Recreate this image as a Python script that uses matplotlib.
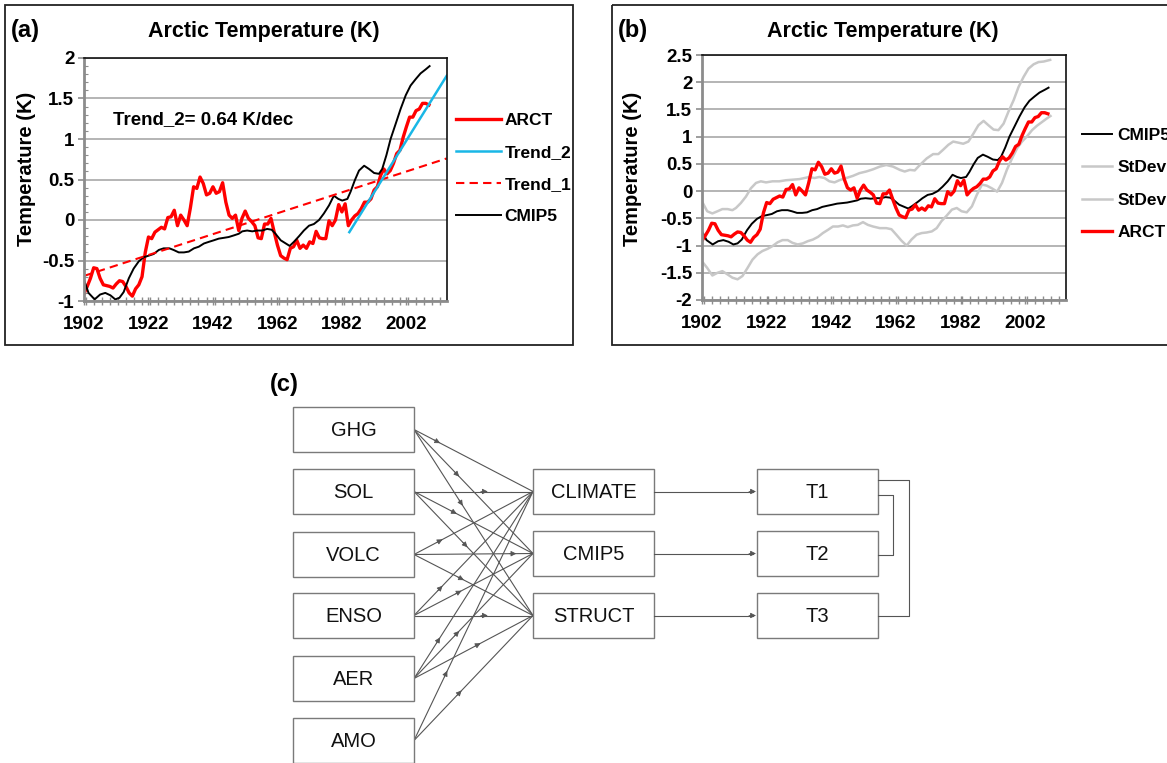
import numpy as np
import matplotlib
matplotlib.use("Agg")
import matplotlib.pyplot as plt
from matplotlib.patches import Rectangle
from matplotlib.ticker import MultipleLocator, FixedLocator

plt.rcParams['font.family'] = ['Liberation Sans', 'DejaVu Sans']

# ---------------- data ----------------
years = np.arange(1902, 2010)
arct = [-0.91, -0.82, -0.72, -0.59, -0.60, -0.72, -0.80, -0.81,
        -0.82, -0.84, -0.79, -0.75, -0.76, -0.82, -0.90, -0.94, -0.85, -0.80,
        -0.70, -0.40, -0.21, -0.23, -0.15, -0.12, -0.09, -0.11, 0.03, 0.04,
        0.12, -0.07, 0.06, 0.00, -0.07, 0.15, 0.41, 0.39, 0.53, 0.45,
        0.31, 0.33, 0.41, 0.33, 0.35, 0.46, 0.22, 0.06, 0.02, 0.06,
        -0.13, 0.02, 0.11, 0.02, -0.02, -0.07, -0.22, -0.23, -0.05, -0.05,
        0.02, -0.15, -0.31, -0.44, -0.47, -0.49, -0.35, -0.33, -0.25, -0.35,
        -0.31, -0.35, -0.27, -0.29, -0.14, -0.22, -0.23, -0.23, -0.01, -0.07,
        0.00, 0.19, 0.10, 0.20, -0.07, 0.00, 0.05, 0.08, 0.14, 0.22,
        0.22, 0.26, 0.37, 0.41, 0.55, 0.63, 0.57, 0.61, 0.70, 0.82,
        0.86, 1.02, 1.15, 1.27, 1.27, 1.35, 1.37, 1.44, 1.44, 1.42]

cmip5_years = [1902, 1903.4, 1905.3, 1907, 1908.6, 1910.2, 1911.7, 1913, 1914.3, 1915.9,
               1917.4, 1919, 1920.5, 1922.1, 1923.6, 1925.2, 1926.7, 1928.5, 1929.8, 1931.4,
               1933, 1934.5, 1936.1, 1937.6, 1939.2, 1940.7, 1942.3, 1943.8, 1945.4, 1946.9,
               1948.5, 1950, 1951.1, 1952.6, 1954.2, 1955.7, 1957.3, 1958.8, 1960.2, 1961.4,
               1963, 1964.6, 1965.8, 1967.1, 1968.7, 1970.2, 1971.8, 1973.3, 1974.9, 1976.4,
               1978, 1979.5, 1980.9, 1982.1, 1983.7, 1984.7, 1986, 1987.3, 1988.9, 1990.4,
               1992, 1993.5, 1994.5, 1995.8, 1997.1, 1998.7, 2000.2, 2001.8, 2003.3, 2004.9,
               2006.4, 2008, 2009.2]
cmip5 = [-0.74, -0.90, -0.98, -0.92, -0.90, -0.93, -0.98, -0.96, -0.89, -0.72,
         -0.60, -0.51, -0.46, -0.44, -0.42, -0.37, -0.35, -0.35, -0.37, -0.40,
         -0.40, -0.39, -0.35, -0.33, -0.29, -0.27, -0.25, -0.23, -0.22, -0.21,
         -0.19, -0.17, -0.14, -0.13, -0.14, -0.13, -0.13, -0.11, -0.12, -0.17,
         -0.25, -0.29, -0.32, -0.27, -0.20, -0.13, -0.07, -0.05, 0.00, 0.08,
         0.18, 0.30, 0.26, 0.24, 0.26, 0.35, 0.49, 0.61, 0.67, 0.63,
         0.58, 0.57, 0.63, 0.80, 1.00, 1.19, 1.37, 1.54, 1.66, 1.74,
         1.81, 1.86, 1.90]

stdev_hi_years = [1902, 1903.6, 1905.2, 1906.8, 1908.3, 1909.9, 1911.4, 1912.5, 1914, 1915.6,
                  1917.1, 1918.7, 1920.2, 1921.8, 1923.8, 1925.9, 1928, 1930.1, 1932.1, 1933.7,
                  1935.2, 1936.8, 1938.3, 1939.9, 1941.4, 1943, 1944.5, 1946.6, 1948.7, 1950.7,
                  1952.8, 1954.9, 1957, 1959, 1961.1, 1963.2, 1964.7, 1966.3, 1967.8, 1969.4,
                  1971.5, 1973.5, 1975.1, 1976.6, 1978.2, 1979.7, 1981.3, 1982.8, 1984.4, 1986,
                  1987.5, 1989.1, 1990.6, 1992.2, 1993.7, 1995.3, 1996.8, 1998.4, 1999.9, 2001.5,
                  2003, 2004.6, 2006.1, 2007.7, 2009.7]
stdev_hi = [-0.19, -0.37, -0.41, -0.37, -0.33, -0.33, -0.35, -0.31, -0.22, -0.10,
            0.05, 0.15, 0.18, 0.16, 0.18, 0.18, 0.20, 0.21, 0.22, 0.24,
            0.26, 0.24, 0.26, 0.24, 0.18, 0.16, 0.20, 0.24, 0.28, 0.33,
            0.36, 0.40, 0.45, 0.48, 0.45, 0.39, 0.36, 0.39, 0.38, 0.48,
            0.60, 0.68, 0.68, 0.76, 0.85, 0.91, 0.89, 0.87, 0.91, 1.06,
            1.21, 1.29, 1.21, 1.13, 1.12, 1.24, 1.46, 1.67, 1.91, 2.10,
            2.25, 2.33, 2.37, 2.38, 2.41]

stdev_lo_years = [1902, 1903.6, 1905.2, 1906.8, 1908.3, 1909.9, 1911.4, 1913, 1914.5, 1916.1,
                  1917.6, 1919.2, 1920.7, 1922.3, 1923.8, 1925.4, 1926.9, 1928.5, 1930, 1931.6,
                  1933.2, 1934.7, 1936.3, 1937.9, 1939.4, 1941, 1942.5, 1944.1, 1945.6, 1947.1,
                  1948.7, 1950.2, 1951.8, 1953.3, 1954.9, 1957, 1959, 1960.6, 1962.1, 1963.7,
                  1965.3, 1966.8, 1968.4, 1970, 1971.5, 1973.1, 1974.6, 1976.1, 1977.7, 1979.3,
                  1980.8, 1982.3, 1983.9, 1985.5, 1987, 1988.6, 1990.1, 1991.7, 1993.3, 1994.8,
                  1996.3, 1997.9, 1999.5, 2001, 2002.6, 2004.1, 2005.6, 2007.2, 2008.8, 2009.8]
stdev_lo = [-1.29, -1.41, -1.55, -1.50, -1.47, -1.53, -1.59, -1.62, -1.56, -1.41,
            -1.26, -1.16, -1.10, -1.06, -1.01, -0.94, -0.90, -0.90, -0.95, -0.98,
            -0.96, -0.92, -0.89, -0.84, -0.77, -0.71, -0.65, -0.65, -0.63, -0.66,
            -0.63, -0.62, -0.57, -0.62, -0.65, -0.68, -0.68, -0.70, -0.80, -0.91,
            -1.00, -0.89, -0.80, -0.77, -0.76, -0.74, -0.68, -0.55, -0.45, -0.34,
            -0.31, -0.37, -0.39, -0.28, -0.07, 0.12, 0.10, 0.05, -0.01, 0.15,
            0.39, 0.60, 0.79, 0.91, 1.01, 1.12, 1.20, 1.27, 1.34, 1.38]

trend1_years = [1902, 2014.5]
trend1 = [-0.69, 0.76]
trend2_years = [1984.3, 2014.5]
trend2 = [-0.15, 1.78]
trend2_text = "Trend_2= 0.64 K/dec"

xtick_years = [1902, 1922, 1942, 1962, 1982, 2002]

inputs = ["GHG", "SOL", "VOLC", "ENSO", "AER", "AMO"]
models = ["CLIMATE", "CMIP5", "STRUCT"]
outputs = ["T1", "T2", "T3"]
# (source, target, position of arrowhead along the link)
links = [("GHG", "CLIMATE", 0.22), ("GHG", "CMIP5", 0.38), ("GHG", "STRUCT", 0.41),
         ("SOL", "CLIMATE", 0.62), ("SOL", "CMIP5", 0.36), ("SOL", "STRUCT", 0.45),
         ("VOLC", "CLIMATE", 0.24), ("VOLC", "CMIP5", 0.86), ("VOLC", "STRUCT", 0.42),
         ("ENSO", "CLIMATE", 0.24), ("ENSO", "CMIP5", 0.40), ("ENSO", "STRUCT", 0.62),
         ("AER", "CLIMATE", 0.22), ("AER", "CMIP5", 0.38), ("AER", "STRUCT", 0.56),
         ("AMO", "CLIMATE", 0.28), ("AMO", "STRUCT", 0.40)]

# ---------------- layout ----------------
W, H = 1167, 763
fig = plt.figure(figsize=(W / 100, H / 100), dpi=100)


def fx(px):
    return px / W


def fy(py):
    return 1 - py / H


RED = '#ff0000'
CYAN = '#19b7e6'
GRID = '#a8a8a8'
AXGRAY = '#8c8c8c'
LGRAY = '#c8c8c8'

bg = fig.add_axes([0, 0, 1, 1])
bg.set_xlim(0, W)
bg.set_ylim(H, 0)
bg.axis('off')

# panel frames
bg.add_patch(Rectangle((5, 5), 568, 340, fill=False, ec='#222222', lw=1.3))
bg.add_patch(Rectangle((612, 5), 600, 340, fill=False, ec='#222222', lw=1.3))

bg.text(11, 30, "(a)", fontsize=17, fontweight='bold', va='center', ha='left')
bg.text(618, 30, "(b)", fontsize=17, fontweight='bold', va='center', ha='left')
bg.text(270, 384, "(c)", fontsize=17, fontweight='bold', va='center', ha='left')
bg.text(264, 32, "Arctic Temperature (K)", fontsize=15.5, fontweight='bold', ha='center', va='center')
bg.text(883, 32, "Arctic Temperature (K)", fontsize=15.5, fontweight='bold', ha='center', va='center')
bg.text(27, 169, "Temperature (K)", fontsize=14.5, fontweight='bold', rotation=90, ha='center', va='center')
bg.text(632, 169, "Temperature (K)", fontsize=14.5, fontweight='bold', rotation=90, ha='center', va='center')


def style_axes(ax, ymin, ymax, minor_y):
    ax.set_xlim(1902, 2014.6)
    ax.set_ylim(ymin, ymax)
    ax.yaxis.set_major_locator(MultipleLocator(0.5))
    ax.yaxis.set_major_formatter(plt.FuncFormatter(lambda v, p: f"{v:g}"))
    if minor_y:
        ax.yaxis.set_minor_locator(MultipleLocator(0.1))
        ax.tick_params(axis='y', which='minor', direction='in', length=3, color=AXGRAY, width=0.8)
    ax.xaxis.set_major_locator(FixedLocator(xtick_years))
    ax.xaxis.set_minor_locator(MultipleLocator(2.5))
    ax.grid(axis='y', color=GRID, lw=1.2)
    ax.set_axisbelow(True)
    for s in ['left', 'bottom']:
        ax.spines[s].set_color(AXGRAY)
        ax.spines[s].set_linewidth(2)
    for s in ['top', 'right']:
        ax.spines[s].set_color('#111111')
        ax.spines[s].set_linewidth(1.2)
    ax.tick_params(axis='y', which='major', direction='out', length=4, color=AXGRAY, width=1.2, pad=3)
    ax.tick_params(axis='x', which='both', direction='inout', length=6, color=AXGRAY, width=1.0, pad=8)
    for lab in ax.get_xticklabels() + ax.get_yticklabels():
        lab.set_fontweight('bold')
        lab.set_fontsize(13.5)


# ---------------- panel (a) ----------------
axa = fig.add_axes([fx(84), fy(301), fx(447) - fx(84), fy(58) - fy(301)])
la, = axa.plot(years, arct, color=RED, lw=2.4, label='ARCT')
lc, = axa.plot(cmip5_years, cmip5, color='black', lw=1.4, label='CMIP5')
l1, = axa.plot(trend1_years, trend1, color=RED, lw=1.5, ls=(0, (4, 2.5)), label='Trend_1')
l2, = axa.plot(trend2_years, trend2, color=CYAN, lw=1.8, label='Trend_2')
style_axes(axa, -1, 2, True)
axa.text(1911, 1.24, trend2_text, fontsize=13.5, fontweight='bold', va='center')

fig.legend([la, l2, l1, lc], ['ARCT', 'Trend_2', 'Trend_1', 'CMIP5'],
           loc='center left', bbox_to_anchor=(fx(456), fy(168.5)), bbox_transform=fig.transFigure,
           frameon=False, borderpad=0, borderaxespad=0, handlelength=2.6, handletextpad=0.2,
           labelspacing=0.98, prop={'weight': 'bold', 'size': 12.5})

# ---------------- panel (b) ----------------
axb = fig.add_axes([fx(702), fy(300), fx(1066) - fx(702), fy(55) - fy(300)])
hi, = axb.plot(stdev_hi_years, stdev_hi, color=LGRAY, lw=1.8, label='StDev')
lo, = axb.plot(stdev_lo_years, stdev_lo, color=LGRAY, lw=1.8, label='StDev')
cb, = axb.plot(cmip5_years, cmip5, color='black', lw=1.4, label='CMIP5')
ab, = axb.plot(years, arct, color=RED, lw=2.4, label='ARCT')
style_axes(axb, -2, 2.5, False)

fig.legend([cb, hi, lo, ab], ['CMIP5', 'StDev', 'StDev', 'ARCT'],
           loc='center left', bbox_to_anchor=(fx(1082), fy(184)), bbox_transform=fig.transFigure,
           frameon=False, borderpad=0, borderaxespad=0, handlelength=1.75, handletextpad=0.3,
           labelspacing=0.98, prop={'weight': 'bold', 'size': 12.5})

# ---------------- panel (c) diagram ----------------
BOXW, BOXH = 121, 45
in_x, mid_x, out_x = 293, 533, 757
in_top = [407, 469, 532, 593, 656, 718]
mid_top = [469, 531, 593]
EDGE = '#7a7a7a'
LINE = '#555555'

pos = {}
for name, top in zip(inputs, in_top):
    pos[name] = (in_x, top)
for name, top in zip(models, mid_top):
    pos[name] = (mid_x, top)
for name, top in zip(outputs, mid_top):
    pos[name] = (out_x, top)

for name, (x, y) in pos.items():
    bg.add_patch(Rectangle((x, y), BOXW, BOXH, fc='white', ec=EDGE, lw=1.0, zorder=2))
    bg.text(x + BOXW / 2, y + BOXH / 2 + 1, name, fontsize=14.5, color='#111111',
            ha='center', va='center', zorder=3)


def head(x0, y0, x1, y1, f):
    px, py = x0 + f * (x1 - x0), y0 + f * (y1 - y0)
    d = np.hypot(x1 - x0, y1 - y0)
    ux, uy = (x1 - x0) / d, (y1 - y0) / d
    bg.annotate('', xy=(px, py), xytext=(px - ux * 7, py - uy * 7),
                arrowprops=dict(arrowstyle='-|>', color=LINE, lw=0.6, mutation_scale=8,
                                shrinkA=0, shrinkB=0))


for src, dst, f in links:
    x0, y0 = pos[src][0] + BOXW, pos[src][1] + BOXH / 2
    x1, y1 = pos[dst][0], pos[dst][1] + BOXH / 2
    bg.plot([x0, x1], [y0, y1], color=LINE, lw=0.8, zorder=1)
    head(x0, y0, x1, y1, f)

for m, o in zip(models, outputs):
    x0, y0 = pos[m][0] + BOXW, pos[m][1] + BOXH / 2
    x1 = pos[o][0]
    bg.plot([x0, x1 - 4], [y0, y0], color=LINE, lw=0.8)
    head(x0, y0, x1, y0, 0.99)

# brackets joining T1 with T2 and T3
xr = out_x + BOXW
bg.plot([xr, 909, 909, xr], [480, 480, 616, 616], color=LINE, lw=0.8)
bg.plot([xr, 893, 893, xr], [495, 495, 555, 555], color=LINE, lw=0.8)

fig.savefig("out.png", dpi=100)
